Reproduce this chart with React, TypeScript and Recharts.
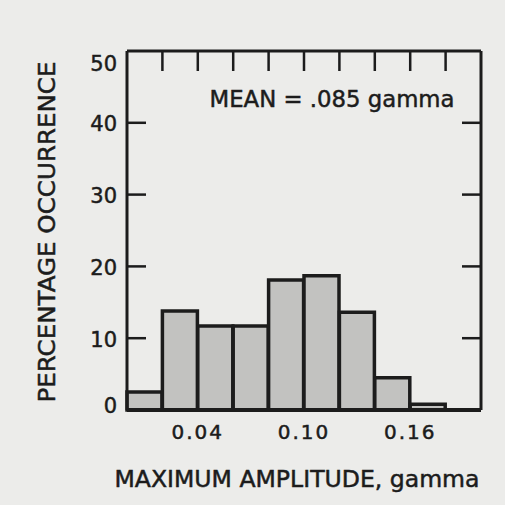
import React from 'react';
import { BarChart, Bar, XAxis, YAxis } from 'recharts';

const binCenters = [0.01, 0.03, 0.05, 0.07, 0.09, 0.11, 0.13, 0.15, 0.17, 0.19];
const percentages = [2.5, 13.8, 11.7, 11.7, 18.1, 18.7, 13.6, 4.5, 0.8, 0];
const binEdges = [0.02, 0.04, 0.06, 0.08, 0.1, 0.12, 0.14, 0.16, 0.18];
const xTicks = [0.04, 0.1, 0.16];
const xTickLabels = ['0.04', '0.10', '0.16'];
const yTicks = [0, 10, 20, 30, 40, 50];
const yInnerTicks = [10, 20, 30, 40];
const xDomain = [0, 0.2];
const yDomain = [0, 50];
const meanLabel = 'MEAN = .085 gamma';
const xTitle = 'MAXIMUM AMPLITUDE, gamma';
const yTitle = 'PERCENTAGE OCCURRENCE';

const data = binCenters.map((x, i) => ({ x, pct: percentages[i] }));

const INK = '#1c1c1c';
const FONT = '"DejaVu Sans", sans-serif';
const INNER_TICK = 19;
const LABEL_GAP = 10;

const NoLabel = () => <g />;

const YTick = (props: any) => {
  const { x, y, payload } = props;
  const v = payload.value;
  const shift = v === 50 ? 12 : v === 0 ? -5 : 1;
  const inner = yInnerTicks.includes(v);
  return (
    <g>
      {inner && (
        <line x1={x + LABEL_GAP} x2={x + LABEL_GAP + INNER_TICK} y1={y} y2={y} stroke={INK} strokeWidth={2.5} />
      )}
      <text x={x} y={y + shift} dy="0.36em" textAnchor="end" fill={INK} stroke={INK} strokeWidth={0.5} fontSize={21} fontFamily={FONT}>
        {String(v)}
      </text>
    </g>
  );
};

const RightTick = (props: any) => {
  const { x, y } = props;
  return <line x1={x - INNER_TICK} x2={x} y1={y} y2={y} stroke={INK} strokeWidth={2.5} />;
};

const XTick = (props: any) => {
  const { x, y, payload } = props;
  const idx = xTicks.indexOf(payload.value);
  return (
    <text x={x} y={y} dy="0.72em" textAnchor="middle" fill={INK} stroke={INK} strokeWidth={0.5} fontSize={20} fontFamily={FONT} letterSpacing={2}>
      {idx >= 0 ? xTickLabels[idx] : String(payload.value)}
    </text>
  );
};

export default function App() {
  return (
    <div style={{ position: 'absolute', left: 0, top: 0, width: 505, height: 505, background: '#ececea' }}>
      <BarChart
        width={505}
        height={505}
        data={data}
        margin={{ top: 51, right: 23, bottom: 55, left: 87 }}
        barCategoryGap={0}
        barGap={0}
      >
        <XAxis
          xAxisId="t"
          orientation="top"
          mirror
          type="number"
          dataKey="x"
          domain={xDomain}
          ticks={binEdges}
          tick={<NoLabel />}
          tickSize={20}
          tickLine={{ stroke: INK, strokeWidth: 2.5 }}
          axisLine={{ stroke: INK, strokeWidth: 3 }}
          interval={0}
        />
        <XAxis
          xAxisId="b"
          type="number"
          dataKey="x"
          domain={xDomain}
          ticks={xTicks}
          height={40}
          tickLine={false}
          tickSize={0}
          tickMargin={15}
          tick={<XTick />}
          axisLine={{ stroke: INK, strokeWidth: 4 }}
          interval={0}
        />
        <YAxis
          yAxisId="l"
          orientation="left"
          width={40}
          type="number"
          domain={yDomain}
          ticks={yTicks}
          tickLine={false}
          tickSize={0}
          tickMargin={LABEL_GAP}
          tick={<YTick />}
          axisLine={{ stroke: INK, strokeWidth: 3 }}
          interval={0}
        />
        <YAxis
          yAxisId="r"
          orientation="right"
          width={1}
          type="number"
          dataKey="pct"
          domain={yDomain}
          allowDataOverflow
          ticks={yInnerTicks}
          tick={<RightTick />}
          tickSize={0}
          tickMargin={0}
          tickLine={false}
          axisLine={{ stroke: INK, strokeWidth: 3 }}
          interval={0}
        />
        <Bar
          xAxisId="b"
          yAxisId="l"
          dataKey="pct"
          fill="#c2c2c0"
          stroke={INK}
          strokeWidth={3.5}
          isAnimationActive={false}
        />
        <text x={332} y={107} textAnchor="middle" fill={INK} stroke={INK} strokeWidth={0.5} fontSize={23} fontFamily={FONT} textLength={245} lengthAdjust="spacingAndGlyphs">
          {meanLabel}
        </text>
        <text x={297} y={487} textAnchor="middle" fill={INK} stroke={INK} strokeWidth={0.5} fontSize={23} fontFamily={FONT} textLength={365} lengthAdjust="spacingAndGlyphs">
          {xTitle}
        </text>
        <text transform="translate(55,232) rotate(-90)" x={0} y={0} textAnchor="middle" fill={INK} stroke={INK} strokeWidth={0.5} fontSize={23} fontFamily={FONT} textLength={341} lengthAdjust="spacingAndGlyphs">
          {yTitle}
        </text>
      </BarChart>
    </div>
  );
}
